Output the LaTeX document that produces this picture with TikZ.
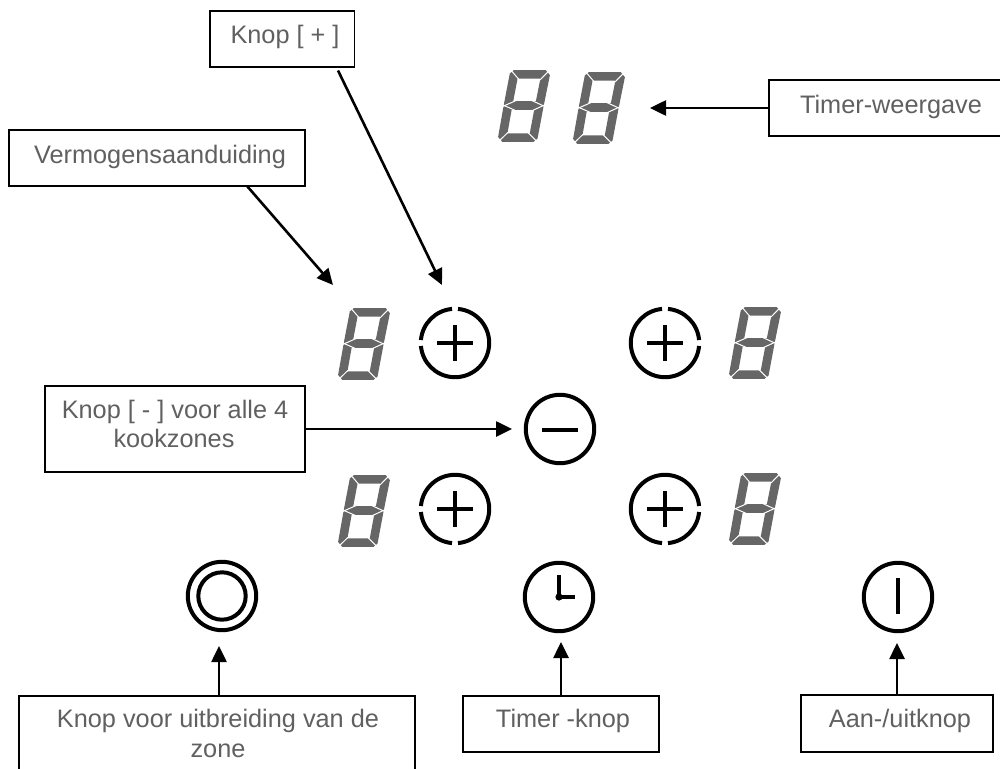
\documentclass[tikz,border=0pt]{standalone}
\usepackage{fontspec}
\setmainfont{Liberation Sans}
\usetikzlibrary{arrows.meta}
\definecolor{segcol}{HTML}{666666}
\definecolor{txtcol}{HTML}{606060}
\tikzset{
  boxnode/.style={draw=black,line width=1.7pt,inner sep=0pt,outer sep=0pt,fill=white},
  lab/.style={anchor=base,inner sep=0pt,text=txtcol,font=\fontsize{25.3}{29}\selectfont},
  conn/.style={draw=black,line width=2.6pt,-{Triangle[length=16pt,width=15pt]}},
  ring/.style={draw=black,line width=4pt},
  sym/.style={draw=black,line width=4pt},
  segbody/.style={draw=segcol,line width=8.6pt,line join=bevel},
  segcut/.style={draw=white,line width=1pt}
}
\newcommand{\segdigit}[2]{%
  \begin{scope}[shift={(#1,#2)}]
  \begin{scope}[x=.33333pt,y=-.33333pt,shift={(-132,-165)}]
    \path[segbody] (102,73)--(197,73)--(178,167)--(160,263)--(67,263)--(84,167)--cycle;
    \path[segbody] (84,167)--(178,167);
    \path[segcut] (118,90)--(88,55);
    \path[segcut] (180,90)--(214,55);
    \path[segcut] (84,247)--(48,282);
    \path[segcut] (143,247)--(178,282);
    \path[segcut] (112,150)--(62,172);
    \path[segcut] (112,184)--(62,162);
    \path[segcut] (152,150)--(200,172);
    \path[segcut] (152,184)--(200,162);
  \end{scope}
  \end{scope}}
\begin{document}
\begin{tikzpicture}[x=1pt,y=-1pt]
\useasboundingbox (0,0) rectangle (1000,768);
\clip (0,0) rectangle (1000,768);
\fill[white] (0,0) rectangle (1000,768);

% displays
\segdigit{524}{105}
\segdigit{599}{107}
\segdigit{364}{343}
\segdigit{755}{342}
\segdigit{364}{510}
\segdigit{755}{508}

% buttons
\foreach \cx/\cy/\a/\b in {455/343/180/270, 665/343/0/270, 665/509/0/90, 455/509/90/180}{
  \pgfmathsetmacro{\sa}{\a+5}
  \pgfmathsetmacro{\ea}{\b-5}
  \pgfmathsetmacro{\sb}{\b+5}
  \pgfmathsetmacro{\eb}{\a+355}
  \draw[ring] (\cx,\cy) ++(\sa:34.2) arc[start angle=\sa,end angle=\ea,radius=34.2];
  \draw[ring] (\cx,\cy) ++(\sb:34.2) arc[start angle=\sb,end angle=\eb,radius=34.2];
  \draw[sym] (\cx-18,\cy)--(\cx+18,\cy);
  \draw[sym] (\cx,\cy-18)--(\cx,\cy+18);
}
\draw[ring] (560,429) circle[radius=34.2];
\draw[sym] (542,430)--(578,430);
\draw[ring] (222,596) circle[radius=34.2];
\draw[ring] (222,596) circle[radius=23.7];
\draw[ring] (559,597) circle[radius=34.2];
\draw[sym] (559,575)--(559,597)--(575,597);
\fill (559,597) circle[radius=3.6];
\draw[ring] (898,597) circle[radius=34.2];
\draw[sym] (898,578)--(898,614);

% boxes
\node[boxnode,minimum width=144.5pt,minimum height=56pt] (bplus) at (282.3,39) {};
\node[boxnode,minimum width=296pt,minimum height=56pt] (bverm) at (157,158) {};
\node[boxnode,minimum width=260pt,minimum height=56pt] (btimerw) at (899,108) {};
\node[boxnode,minimum width=260pt,minimum height=86pt] (bmin) at (175,429) {};
\node[boxnode,minimum width=396pt,minimum height=100pt] (bzone) at (217,746) {};
\node[boxnode,minimum width=196pt,minimum height=56pt] (btimer) at (561,724) {};
\node[boxnode,minimum width=192pt,minimum height=57pt] (baan) at (897,723.5) {};

% labels
\node[lab] (tplus) at (285,44) {Knop [ + ]};
\node[lab] (tverm) at (160,163) {Vermogensaanduiding};
\node[lab] (ttimerw) at (891,113) {Timer-weergave};
\node[lab] (tmin1) at (175,418) {Knop [ - ] voor alle 4};
\node[lab] (tmin2) at (174,447) {kookzones};
\node[lab] (tzone1) at (218,727) {Knop voor uitbreiding van de};
\node[lab] (tzone2) at (218,757) {zone};
\node[lab] (ttimer) at (563,727) {Timer -knop};
\node[lab] (taan) at (900,727) {Aan-/uitknop};

% connector ends
\coordinate (tipverm) at (333,285);
\coordinate (tipplus) at (442,285);
\coordinate (tipdisp) at (650,108);
\coordinate (tipmin) at (512,429);
\coordinate (tipzone) at (219,646);
\coordinate (tiptimer) at (561,642);
\coordinate (tipaan) at (897,643);
\coordinate (startplus) at (338,70.5);

\draw[conn] ([xshift=90pt]bverm.south) -- (tipverm);
\draw[conn] (startplus) -- (tipplus);
\draw[conn] (btimerw.west) -- (tipdisp);
\draw[conn] (bmin.east) -- (tipmin);
\draw[conn] ([xshift=2pt]bzone.north) -- (tipzone);
\draw[conn] (btimer.north) -- (tiptimer);
\draw[conn] (baan.north) -- (tipaan);
\end{tikzpicture}
\end{document}
